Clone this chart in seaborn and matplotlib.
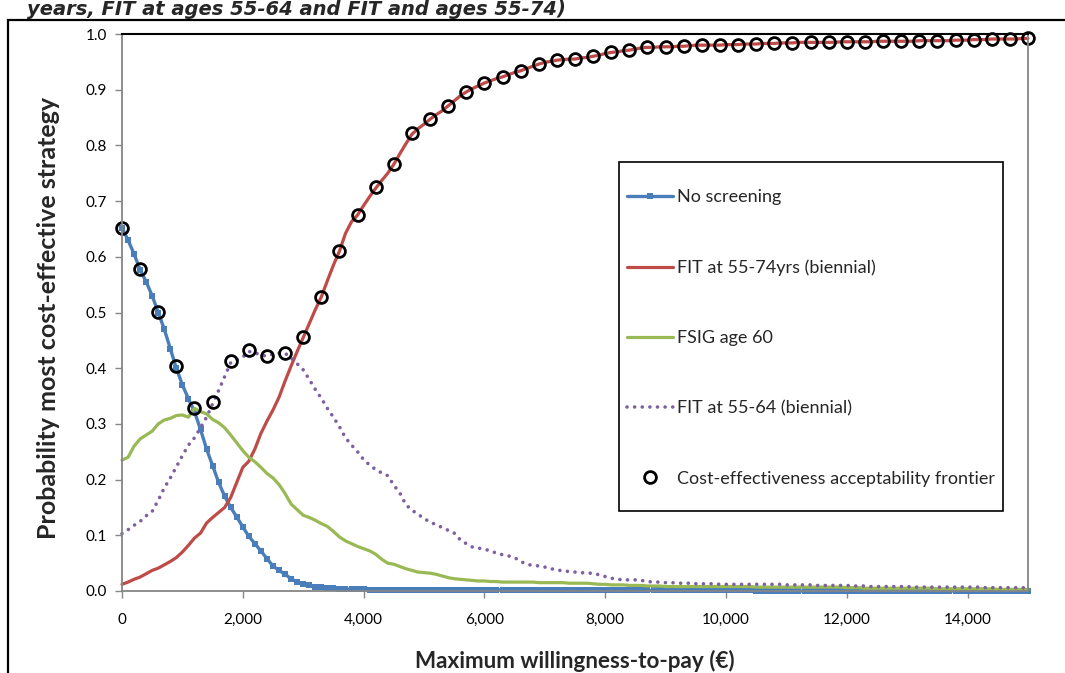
import pandas as pd
import matplotlib
matplotlib.use("Agg")
import matplotlib.pyplot as plt
from matplotlib.patches import Rectangle
import seaborn as sns

# Willingness-to-pay grid (EUR) for the curves
wtp = list(range(0, 15001, 100))

no_screening = [
    0.652, 0.630, 0.605, 0.577, 0.555, 0.530, 0.500, 0.470, 0.435, 0.400,
    0.370, 0.345, 0.322, 0.290, 0.255, 0.225, 0.195, 0.170, 0.150, 0.133,
    0.115, 0.098, 0.085, 0.072, 0.058, 0.045, 0.037, 0.030, 0.022, 0.016,
    0.012, 0.010, 0.008, 0.007, 0.006, 0.005, 0.004, 0.004, 0.003, 0.003,
    0.003, 0.002, 0.002, 0.002, 0.002, 0.002, 0.002, 0.002, 0.002, 0.002,
    0.002, 0.002, 0.002, 0.002, 0.002, 0.002, 0.002, 0.002, 0.002, 0.002,
    0.002, 0.002, 0.002, 0.002, 0.002, 0.001, 0.001, 0.001, 0.001, 0.001,
    0.001, 0.001, 0.001, 0.001, 0.001, 0.001, 0.001, 0.001, 0.001, 0.001,
    0.001, 0.001, 0.001, 0.001, 0.001, 0.001, 0.001, 0.001, 0.001, 0.001,
    0.001, 0.001, 0.001, 0.001, 0.001, 0.001, 0.001, 0.001, 0.001, 0.001,
    0.001, 0.001, 0.001, 0.001, 0.001, 0.000, 0.000, 0.000, 0.000, 0.000,
    0.000, 0.000, 0.000, 0.000, 0.000, 0.000, 0.000, 0.000, 0.000, 0.000,
    0.000, 0.000, 0.000, 0.000, 0.000, 0.000, 0.000, 0.000, 0.000, 0.000,
    0.000, 0.000, 0.000, 0.000, 0.000, 0.000, 0.000, 0.000, 0.000, 0.000,
    0.000, 0.000, 0.000, 0.000, 0.000, 0.000, 0.000, 0.000, 0.000, 0.000,
    0.000,
]

fit_55_74 = [
    0.012, 0.016, 0.021, 0.025, 0.031, 0.037, 0.041, 0.047, 0.053, 0.060,
    0.070, 0.082, 0.095, 0.104, 0.122, 0.132, 0.141, 0.150, 0.168, 0.195,
    0.222, 0.233, 0.255, 0.283, 0.305, 0.325, 0.348, 0.377, 0.404, 0.430,
    0.455, 0.480, 0.505, 0.528, 0.557, 0.585, 0.610, 0.642, 0.663, 0.675,
    0.692, 0.708, 0.723, 0.737, 0.750, 0.766, 0.785, 0.803, 0.820, 0.830,
    0.838, 0.847, 0.855, 0.862, 0.871, 0.880, 0.889, 0.896, 0.902, 0.907,
    0.912, 0.916, 0.920, 0.923, 0.927, 0.931, 0.934, 0.938, 0.942, 0.946,
    0.949, 0.951, 0.953, 0.954, 0.955, 0.955, 0.957, 0.958, 0.960, 0.962,
    0.965, 0.967, 0.968, 0.970, 0.971, 0.973, 0.975, 0.976, 0.976, 0.977,
    0.977, 0.977, 0.978, 0.978, 0.979, 0.980, 0.980, 0.980, 0.980, 0.980,
    0.981, 0.981, 0.981, 0.982, 0.982, 0.982, 0.983, 0.983, 0.983, 0.984,
    0.984, 0.984, 0.985, 0.985, 0.985, 0.985, 0.985, 0.985, 0.985, 0.986,
    0.986, 0.986, 0.986, 0.986, 0.986, 0.987, 0.987, 0.987, 0.987, 0.987,
    0.987, 0.987, 0.988, 0.988, 0.988, 0.988, 0.988, 0.988, 0.989, 0.989,
    0.989, 0.990, 0.990, 0.990, 0.991, 0.991, 0.991, 0.991, 0.991, 0.992,
    0.992,
]

fsig_60 = [
    0.235, 0.240, 0.260, 0.273, 0.280, 0.287, 0.300, 0.307, 0.310, 0.315,
    0.316, 0.312, 0.328, 0.322, 0.318, 0.308, 0.302, 0.293, 0.280, 0.266,
    0.252, 0.240, 0.232, 0.222, 0.211, 0.203, 0.191, 0.175, 0.156, 0.146,
    0.136, 0.132, 0.127, 0.121, 0.116, 0.107, 0.097, 0.090, 0.085, 0.080,
    0.076, 0.072, 0.066, 0.057, 0.050, 0.048, 0.044, 0.040, 0.037, 0.034,
    0.033, 0.032, 0.030, 0.027, 0.024, 0.022, 0.021, 0.020, 0.019, 0.018,
    0.018, 0.017, 0.017, 0.016, 0.016, 0.016, 0.016, 0.016, 0.016, 0.015,
    0.015, 0.015, 0.015, 0.015, 0.014, 0.014, 0.014, 0.014, 0.013, 0.012,
    0.012, 0.011, 0.011, 0.011, 0.010, 0.010, 0.010, 0.009, 0.009, 0.009,
    0.008, 0.008, 0.008, 0.008, 0.008, 0.008, 0.008, 0.008, 0.008, 0.008,
    0.008, 0.008, 0.008, 0.008, 0.008, 0.007, 0.007, 0.007, 0.007, 0.007,
    0.007, 0.007, 0.007, 0.007, 0.007, 0.007, 0.007, 0.007, 0.007, 0.007,
    0.006, 0.006, 0.006, 0.005, 0.005, 0.005, 0.005, 0.005, 0.005, 0.005,
    0.005, 0.005, 0.005, 0.005, 0.005, 0.004, 0.004, 0.004, 0.004, 0.004,
    0.004, 0.004, 0.004, 0.004, 0.004, 0.003, 0.003, 0.003, 0.003, 0.003,
    0.003,
]

fit_55_64 = [
    0.103, 0.110, 0.118, 0.125, 0.135, 0.143, 0.163, 0.185, 0.203, 0.223,
    0.243, 0.262, 0.275, 0.293, 0.312, 0.336, 0.360, 0.385, 0.410, 0.415,
    0.420, 0.430, 0.428, 0.423, 0.422, 0.425, 0.427, 0.427, 0.418, 0.408,
    0.397, 0.380, 0.362, 0.346, 0.328, 0.312, 0.295, 0.275, 0.262, 0.250,
    0.236, 0.226, 0.218, 0.212, 0.207, 0.190, 0.176, 0.155, 0.145, 0.138,
    0.130, 0.124, 0.119, 0.114, 0.109, 0.104, 0.092, 0.085, 0.079, 0.077,
    0.075, 0.072, 0.068, 0.065, 0.063, 0.060, 0.053, 0.048, 0.046, 0.045,
    0.043, 0.040, 0.038, 0.036, 0.035, 0.034, 0.033, 0.032, 0.032, 0.029,
    0.026, 0.023, 0.021, 0.020, 0.020, 0.020, 0.019, 0.017, 0.016, 0.016,
    0.015, 0.015, 0.014, 0.014, 0.014, 0.013, 0.013, 0.013, 0.013, 0.012,
    0.012, 0.012, 0.012, 0.012, 0.012, 0.012, 0.012, 0.012, 0.012, 0.012,
    0.011, 0.011, 0.011, 0.011, 0.011, 0.010, 0.010, 0.010, 0.010, 0.010,
    0.010, 0.009, 0.009, 0.009, 0.008, 0.008, 0.008, 0.008, 0.008, 0.008,
    0.008, 0.007, 0.007, 0.007, 0.007, 0.007, 0.007, 0.007, 0.007, 0.007,
    0.007, 0.007, 0.007, 0.006, 0.006, 0.006, 0.006, 0.006, 0.006, 0.006,
    0.005,
]

# Frontier points (every 300 EUR)
frontier_wtp = list(range(0, 15001, 300))
frontier = [
    0.652, 0.578, 0.501, 0.404, 0.329, 0.339, 0.413, 0.433, 0.422, 0.427,
    0.456, 0.528, 0.610, 0.675, 0.725, 0.767, 0.822, 0.847, 0.871, 0.896,
    0.912, 0.923, 0.934, 0.946, 0.953, 0.955, 0.960, 0.967, 0.971, 0.976,
    0.977, 0.978, 0.980, 0.980, 0.981, 0.982, 0.983, 0.984, 0.985, 0.985,
    0.986, 0.986, 0.987, 0.987, 0.988, 0.988, 0.989, 0.990, 0.991, 0.991,
    0.992,
]

curves = pd.DataFrame({
    "wtp": wtp,
    "No screening": no_screening,
    "FIT at 55-74yrs (biennial)": fit_55_74,
    "FSIG age 60": fsig_60,
    "FIT at 55-64 (biennial)": fit_55_64,
})
cea_frontier = pd.DataFrame({"wtp": frontier_wtp, "prob": frontier})

sns.set_style("white")
plt.rcParams["font.family"] = ["Lato", "DejaVu Sans"]

fig = plt.figure(figsize=(10.65, 6.73), dpi=100)
ax = fig.add_axes([122 / 1065, 1 - 591 / 673, 906 / 1065, 557 / 673])

sns.lineplot(data=curves, x="wtp", y="No screening", ax=ax, color="#4A7EBB",
             lw=2.4, marker="s", markersize=4.3, markeredgewidth=0,
             label="No screening", clip_on=False)
sns.lineplot(data=curves, x="wtp", y="FIT at 55-74yrs (biennial)", ax=ax,
             color="#BE4B48", lw=2.3, label="FIT at 55-74yrs (biennial)",
             clip_on=False)
sns.lineplot(data=curves, x="wtp", y="FSIG age 60", ax=ax, color="#98B954",
             lw=2.3, label="FSIG age 60", clip_on=False)
sns.lineplot(data=curves, x="wtp", y="FIT at 55-64 (biennial)", ax=ax,
             color="#7D60A0", lw=2.6, dashes=False,
             linestyle=(0, (0.01, 2.1)), dash_capstyle="round",
             label="FIT at 55-64 (biennial)", clip_on=False)
sns.lineplot(data=cea_frontier, x="wtp", y="prob", ax=ax, linestyle="",
             marker="o", markersize=8.5, markerfacecolor="none",
             markeredgecolor="black", markeredgewidth=2.0, color="black",
             label="Cost-effectiveness acceptability frontier", clip_on=False)

ax.set_xlim(0, 15000)
ax.set_ylim(0, 1.0)
ax.set_xticks(range(0, 15000, 2000))
ax.set_xticklabels([f"{v:,}" for v in range(0, 15000, 2000)])
ax.set_yticks([i / 10 for i in range(11)])
ax.set_yticklabels([f"{i / 10:.1f}" for i in range(11)])
ax.tick_params(axis="both", labelsize=11, colors="black")
ax.tick_params(axis="x", length=5, width=1, color="#868686", pad=11, bottom=True)
ax.tick_params(axis="y", length=5, width=1, color="#868686", pad=6, left=True)

for side in ["left", "bottom", "right"]:
    ax.spines[side].set_color("#868686")
    ax.spines[side].set_linewidth(1.3)
ax.spines["top"].set_color("black")
ax.spines["top"].set_linewidth(1.5)

ax.set_xlabel("Maximum willingness-to-pay (€)", fontsize=16.2, fontweight="bold")
ax.set_ylabel("Probability most cost-effective strategy", fontsize=18,
              fontweight="bold")
ax.xaxis.set_label_coords(0.5, -0.106)
ax.yaxis.set_label_coords(-0.068, 0.49)

# legend with its own frame
ax.add_patch(Rectangle((0.549, 0.144), 0.423, 0.626, transform=ax.transAxes,
                       fill=False, ec="black", lw=1.2, zorder=5))
ax.legend(loc="upper left", bbox_to_anchor=(0.557, 0.721), frameon=False,
          fontsize=13, borderpad=0, borderaxespad=0, labelspacing=3.0,
          handlelength=2.55, handletextpad=0.25, numpoints=1)

# outer chart border and the title strip above it
fig.add_artist(Rectangle((8 / 1065, -0.1), 1.2, 1.1 - 20 / 673,
                         transform=fig.transFigure, fill=False, ec="black",
                         lw=1.6))
fig.text(27 / 1065, 1 - 15 / 673, "years, FIT at ages 55-64 and FIT and ages 55-74)",
         fontsize=14, fontweight="bold", fontstyle="italic", va="baseline",
         family=["DejaVu Sans"])

fig.savefig("out.png", dpi=100)
